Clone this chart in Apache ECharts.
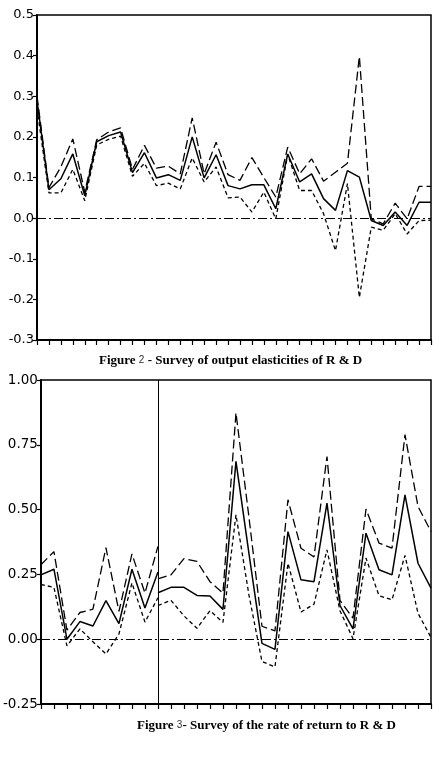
<!DOCTYPE html>
<html>
<head>
<meta charset="utf-8">
<script src="https://cdn.jsdelivr.net/npm/echarts@6/dist/echarts.min.js"></script>
<style>
html,body{margin:0;padding:0;background:#fff;}
#c{width:433px;height:758px;}
</style>
</head>
<body>
<div id="c"></div>
<script>
// ---------- Figure 2: output elasticities of R & D ----------
var studies2 = ['1','2','3','4','5','6','7','8','9','10','11','12','13','14','15','16','17','18','19','20','21','22','23','24','25','26','27','28','29','30','31','32','33','34'];
var elastMid   = [0.29, 0.07, 0.097, 0.158, 0.055, 0.188, 0.203, 0.212, 0.112, 0.161, 0.099, 0.107, 0.093, 0.2, 0.099, 0.156, 0.08, 0.072, 0.082, 0.082, 0.023, 0.158, 0.089, 0.109, 0.048, 0.019, 0.117, 0.101, -0.006, -0.018, 0.015, -0.018, 0.039, 0.039];
var elastUpper = [0.30, 0.075, 0.126, 0.195, 0.064, 0.193, 0.212, 0.222, 0.12, 0.179, 0.123, 0.128, 0.109, 0.247, 0.109, 0.187, 0.107, 0.093, 0.149, 0.1, 0.052, 0.175, 0.109, 0.146, 0.091, 0.113, 0.135, 0.398, -0.002, -0.014, 0.037, -0.002, 0.078, 0.078];
var elastLower = [0.27, 0.062, 0.062, 0.12, 0.043, 0.18, 0.194, 0.202, 0.103, 0.135, 0.08, 0.086, 0.072, 0.148, 0.089, 0.126, 0.05, 0.052, 0.015, 0.064, -0.002, 0.157, 0.068, 0.068, 0.011, -0.08, 0.085, -0.195, -0.022, -0.03, 0.011, -0.039, -0.006, -0.005];
var yTicks2 = {min: -0.3, max: 0.5, step: 0.1};
var caption2 = ['Figure ', '2', ' - Survey of output elasticities of R & D'];

// ---------- Figure 3: rate of return to R & D ----------
var studies3 = ['1','2','3','4','5','6','7','8','9','10','11','12','13','14','15','16','17','18','19','20','21','22','23','24','25','26','27','28','29','30','31'];
var splitIndex = 9;   // first group: studies 1-10, second group: 10-31
var rorLeftUpper = [0.287, 0.338, 0.035, 0.103, 0.116, 0.353, 0.107, 0.329, 0.178, 0.358];
var rorLeftMid   = [0.248, 0.27, 0.0, 0.068, 0.051, 0.149, 0.06, 0.27, 0.12, 0.259];
var rorLeftLower = [0.211, 0.2, -0.026, 0.04, -0.01, -0.057, 0.02, 0.217, 0.066, 0.16];
var rorRightUpper = [0.233, 0.248, 0.311, 0.3, 0.222, 0.178, 0.873, 0.47, 0.05, 0.032, 0.538, 0.351, 0.317, 0.705, 0.15, 0.081, 0.502, 0.371, 0.351, 0.789, 0.512, 0.415];
var rorRightMid   = [0.179, 0.2, 0.2, 0.169, 0.167, 0.115, 0.686, 0.33, -0.016, -0.039, 0.415, 0.229, 0.222, 0.525, 0.13, 0.04, 0.409, 0.268, 0.248, 0.557, 0.293, 0.197];
var rorRightLower = [0.13, 0.15, 0.09, 0.042, 0.11, 0.065, 0.48, 0.17, -0.086, -0.107, 0.293, 0.105, 0.135, 0.345, 0.11, 0.002, 0.313, 0.168, 0.152, 0.323, 0.1, 0.007];
var yTicks3 = {min: -0.25, max: 1.0, step: 0.25};
var caption3 = ['Figure ', '3', '- Survey of the rate of return to R & D'];

// ---------- build ----------
function padLeft(arr, n) { var out = []; for (var i = 0; i < n; i++) out.push(i < arr.length ? arr[i] : null); return out; }
function padRight(arr, start, n) { var out = []; for (var i = 0; i < n; i++) out.push(i >= start && i - start < arr.length ? arr[i - start] : null); return out; }

var LONG = [9, 4], SHORT = [4, 3], DASHDOT = [9, 3, 2, 3];
var FONT = 'DejaVu Sans';

function lineSeries(data, xi, dash, w) {
  return {
    type: 'line', xAxisIndex: xi, yAxisIndex: xi, data: data,
    symbol: 'none', connectNulls: false, silent: true, animation: false,
    lineStyle: {color: '#000', width: w, type: dash}
  };
}
function xAxisCfg(cats, gi) {
  return {
    type: 'category', gridIndex: gi, data: cats, boundaryGap: false,
    axisLine: {show: true, onZero: false, lineStyle: {color: '#000', width: 2}},
    axisTick: {show: true, inside: false, length: 5, interval: 0, lineStyle: {color: '#000', width: 1.2}},
    axisLabel: {show: false}, splitLine: {show: false}
  };
}
function yAxisCfg(t, gi, dec, fs) {
  return {
    type: 'value', gridIndex: gi, min: t.min, max: t.max, interval: t.step,
    axisLine: {show: true, lineStyle: {color: '#000', width: 2}},
    axisTick: {show: true, inside: false, length: 4, lineStyle: {color: '#000', width: 1.2}},
    axisLabel: {color: '#000', fontSize: fs, fontFamily: FONT, margin: 3,
      formatter: function (v) { return v.toFixed(dec); }},
    splitLine: {show: false}
  };
}
function captionTitle(parts, left, top) {
  return {
    text: '{b|' + parts[0] + '}{n|' + parts[1] + '}{b|' + parts[2] + '}',
    left: left, top: top,
    textStyle: {
      rich: {
        b: {fontFamily: 'Liberation Serif', fontWeight: 'bold', fontSize: 13, color: '#000'},
        n: {fontFamily: 'Liberation Sans', fontWeight: 'normal', fontSize: 10, color: '#333'}
      }
    }
  };
}

var n3 = studies3.length;
var mid2 = lineSeries(elastMid, 0, 'solid', 1.5);
mid2.markLine = {silent: true, symbol: 'none', label: {show: false}, animation: false,
  lineStyle: {color: '#000', width: 1.1, type: DASHDOT}, data: [{yAxis: 0}]};

var leftMid3 = lineSeries(padLeft(rorLeftMid, n3), 1, 'solid', 1.5);
leftMid3.markLine = {silent: true, symbol: 'none', label: {show: false}, animation: false,
  lineStyle: {color: '#000', width: 1.1, type: DASHDOT}, data: [{yAxis: 0}]};
var rightMid3 = lineSeries(padRight(rorRightMid, splitIndex, n3), 1, 'solid', 1.5);
rightMid3.markLine = {silent: true, symbol: 'none', label: {show: false}, animation: false,
  lineStyle: {color: '#000', width: 1, type: 'solid'}, data: [{xAxis: studies3[splitIndex]}]};

var option = {
  animation: false,
  backgroundColor: '#fff',
  title: [
    captionTitle(caption2, 94, 349),
    captionTitle(caption3, 132, 714)
  ],
  grid: [
    {left: 37, right: 2, top: 15, height: 325, show: true, borderColor: '#000', borderWidth: 1.5, backgroundColor: 'transparent'},
    {left: 37, right: 2, top: 380, height: 324, show: true, borderColor: '#000', borderWidth: 1.5, backgroundColor: 'transparent'}
  ],
  xAxis: [xAxisCfg(studies2, 0), xAxisCfg(studies3, 1)],
  yAxis: [yAxisCfg(yTicks2, 0, 1, 13), yAxisCfg(yTicks3, 1, 2, 13.5)],
  series: [
    mid2,
    lineSeries(elastUpper, 0, LONG, 1.3),
    lineSeries(elastLower, 0, SHORT, 1.3),
    leftMid3,
    lineSeries(padLeft(rorLeftUpper, n3), 1, LONG, 1.3),
    lineSeries(padLeft(rorLeftLower, n3), 1, SHORT, 1.3),
    rightMid3,
    lineSeries(padRight(rorRightUpper, splitIndex, n3), 1, LONG, 1.3),
    lineSeries(padRight(rorRightLower, splitIndex, n3), 1, SHORT, 1.3)
  ]
};
var chart = echarts.init(document.getElementById('c'), null, {renderer: 'canvas'});
chart.setOption(option);
</script>
</body>
</html>
